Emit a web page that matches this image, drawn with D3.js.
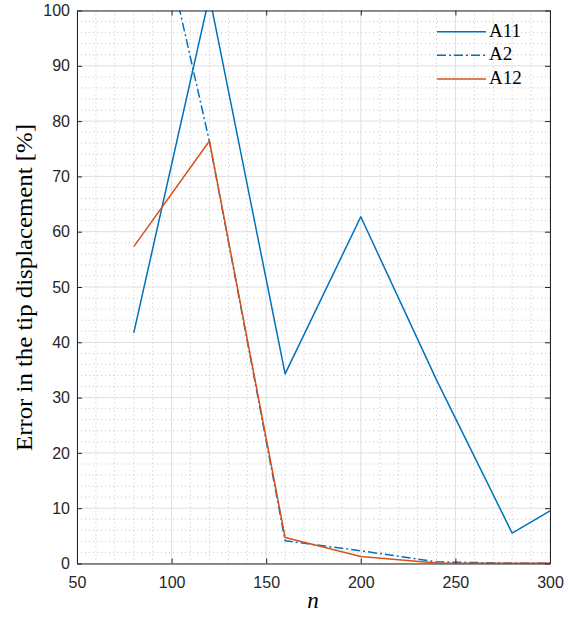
<!DOCTYPE html>
<html>
<head>
<meta charset="utf-8">
<script src="https://cdn.jsdelivr.net/npm/d3@7"></script>
<style>
  html, body { margin: 0; padding: 0; background: #fff; }
  svg { display: block; }
</style>
</head>
<body>
<svg id="chart" width="568" height="617"></svg>
<script>
// Sample counts and tip-displacement error (%) for each scheme
const nValues = [80, 120, 160, 200, 240, 280, 300];
const a11 = [41.7, 102.6, 34.3, 62.7, 33.2, 5.5, 9.5];
const a2 = [136.8, 76.3, 4.1, 2.3, 0.3, 0.05, 0.05];
const a12 = [57.3, 76.4, 4.7, 1.25, 0.1, 0.05, 0.05];

const xTicks = [50, 100, 150, 200, 250, 300];
const yTicks = [0, 10, 20, 30, 40, 50, 60, 70, 80, 90, 100];
const xMinor = d3.range(50, 301, 10);
const yMinor = d3.range(0, 101, 2);

const seriesList = [
  { name: "A11", values: a11, color: "#0072BD", dash: null },
  { name: "A2", values: a2, color: "#0072BD", dash: "9,3,2,3" },
  { name: "A12", values: a12, color: "#D95319", dash: null }
];

const margin = { left: 77, top: 10.5, right: 18, bottom: 53.5 };
const W = 568, H = 617;
const iw = W - margin.left - margin.right;
const ih = H - margin.top - margin.bottom;

const svg = d3.select("#chart");
const g = svg.append("g").attr("transform", `translate(${margin.left},${margin.top})`);

const x = d3.scaleLinear().domain([50, 300]).range([0, iw]);
const y = d3.scaleLinear().domain([0, 100]).range([ih, 0]);

// minor grid (dotted)
g.append("g").selectAll("line").data(xMinor.filter(v => !xTicks.includes(v))).join("line")
  .attr("x1", d => x(d)).attr("x2", d => x(d)).attr("y1", 0).attr("y2", ih)
  .attr("stroke", "#c4c4c4").attr("stroke-width", 1).attr("stroke-dasharray", "1,3");
g.append("g").selectAll("line").data(yMinor.filter(v => !yTicks.includes(v))).join("line")
  .attr("y1", d => y(d)).attr("y2", d => y(d)).attr("x1", 0).attr("x2", iw)
  .attr("stroke", "#c4c4c4").attr("stroke-width", 1).attr("stroke-dasharray", "1,3");

// major grid
g.append("g").selectAll("line").data(xTicks).join("line")
  .attr("x1", d => x(d)).attr("x2", d => x(d)).attr("y1", 0).attr("y2", ih)
  .attr("stroke", "#dedede").attr("stroke-width", 1);
g.append("g").selectAll("line").data(yTicks).join("line")
  .attr("y1", d => y(d)).attr("y2", d => y(d)).attr("x1", 0).attr("x2", iw)
  .attr("stroke", "#dedede").attr("stroke-width", 1);

// data lines, clipped to the axes box
svg.append("defs").append("clipPath").attr("id", "plotClip")
  .append("rect").attr("x", 0).attr("y", 0).attr("width", iw).attr("height", ih);

const line = d3.line().x((d, i) => x(nValues[i])).y(d => y(d));
const plot = g.append("g").attr("clip-path", "url(#plotClip)");
seriesList.forEach(s => {
  plot.append("path").datum(s.values)
    .attr("d", line)
    .attr("fill", "none")
    .attr("stroke", s.color)
    .attr("stroke-width", 1.5)
    .attr("stroke-linejoin", "round")
    .attr("stroke-dasharray", s.dash);
});

// axes with inward ticks on all four sides
const tickFont = "Liberation Sans, Arial, Helvetica, sans-serif";
const axisColor = "#262626";
function styleAxis(sel, showLabels) {
  sel.select(".domain").attr("stroke", axisColor).attr("stroke-width", 1);
  sel.selectAll(".tick line").attr("stroke", axisColor);
  sel.selectAll(".tick text")
    .attr("fill", axisColor)
    .style("font-family", tickFont)
    .style("font-size", "16px")
    .style("display", showLabels ? null : "none");
}
const xb = g.append("g").attr("transform", `translate(0,${ih})`)
  .call(d3.axisBottom(x).tickValues(xTicks).tickSizeInner(-5).tickSizeOuter(0).tickPadding(13));
styleAxis(xb, true);
const xt = g.append("g")
  .call(d3.axisTop(x).tickValues(xTicks).tickSizeInner(-5).tickSizeOuter(0));
styleAxis(xt, false);
const yl = g.append("g")
  .call(d3.axisLeft(y).tickValues(yTicks).tickSizeInner(-5).tickSizeOuter(0).tickPadding(7));
styleAxis(yl, true);
const yr = g.append("g").attr("transform", `translate(${iw},0)`)
  .call(d3.axisRight(y).tickValues(yTicks).tickSizeInner(-5).tickSizeOuter(0));
styleAxis(yr, false);

// axis titles
const serif = "Liberation Serif, 'Times New Roman', serif";
svg.append("text")
  .attr("x", 313).attr("y", 608)
  .attr("text-anchor", "middle")
  .style("font-family", serif).style("font-style", "italic").style("font-size", "23px")
  .attr("fill", "#000")
  .text("n");
svg.append("text")
  .attr("transform", `translate(32,287.5) rotate(-90)`)
  .attr("text-anchor", "middle")
  .attr("textLength", 327).attr("lengthAdjust", "spacingAndGlyphs")
  .style("font-family", serif).style("font-size", "23px")
  .attr("fill", "#000")
  .text("Error in the tip displacement [%]");

// legend
const legend = g.append("g").attr("transform", `translate(${437 - margin.left},${31.7 - margin.top})`);
seriesList.forEach((s, i) => {
  const row = legend.append("g").attr("transform", `translate(0,${i * 23.6})`);
  row.append("line").attr("x1", 0).attr("x2", 49).attr("y1", 0).attr("y2", 0)
    .attr("stroke", s.color).attr("stroke-width", 1.5).attr("stroke-dasharray", s.dash);
  row.append("text").attr("x", 52).attr("y", 5)
    .style("font-family", serif).style("font-size", "19px").attr("fill", "#000")
    .text(s.name);
});
</script>
</body>
</html>
